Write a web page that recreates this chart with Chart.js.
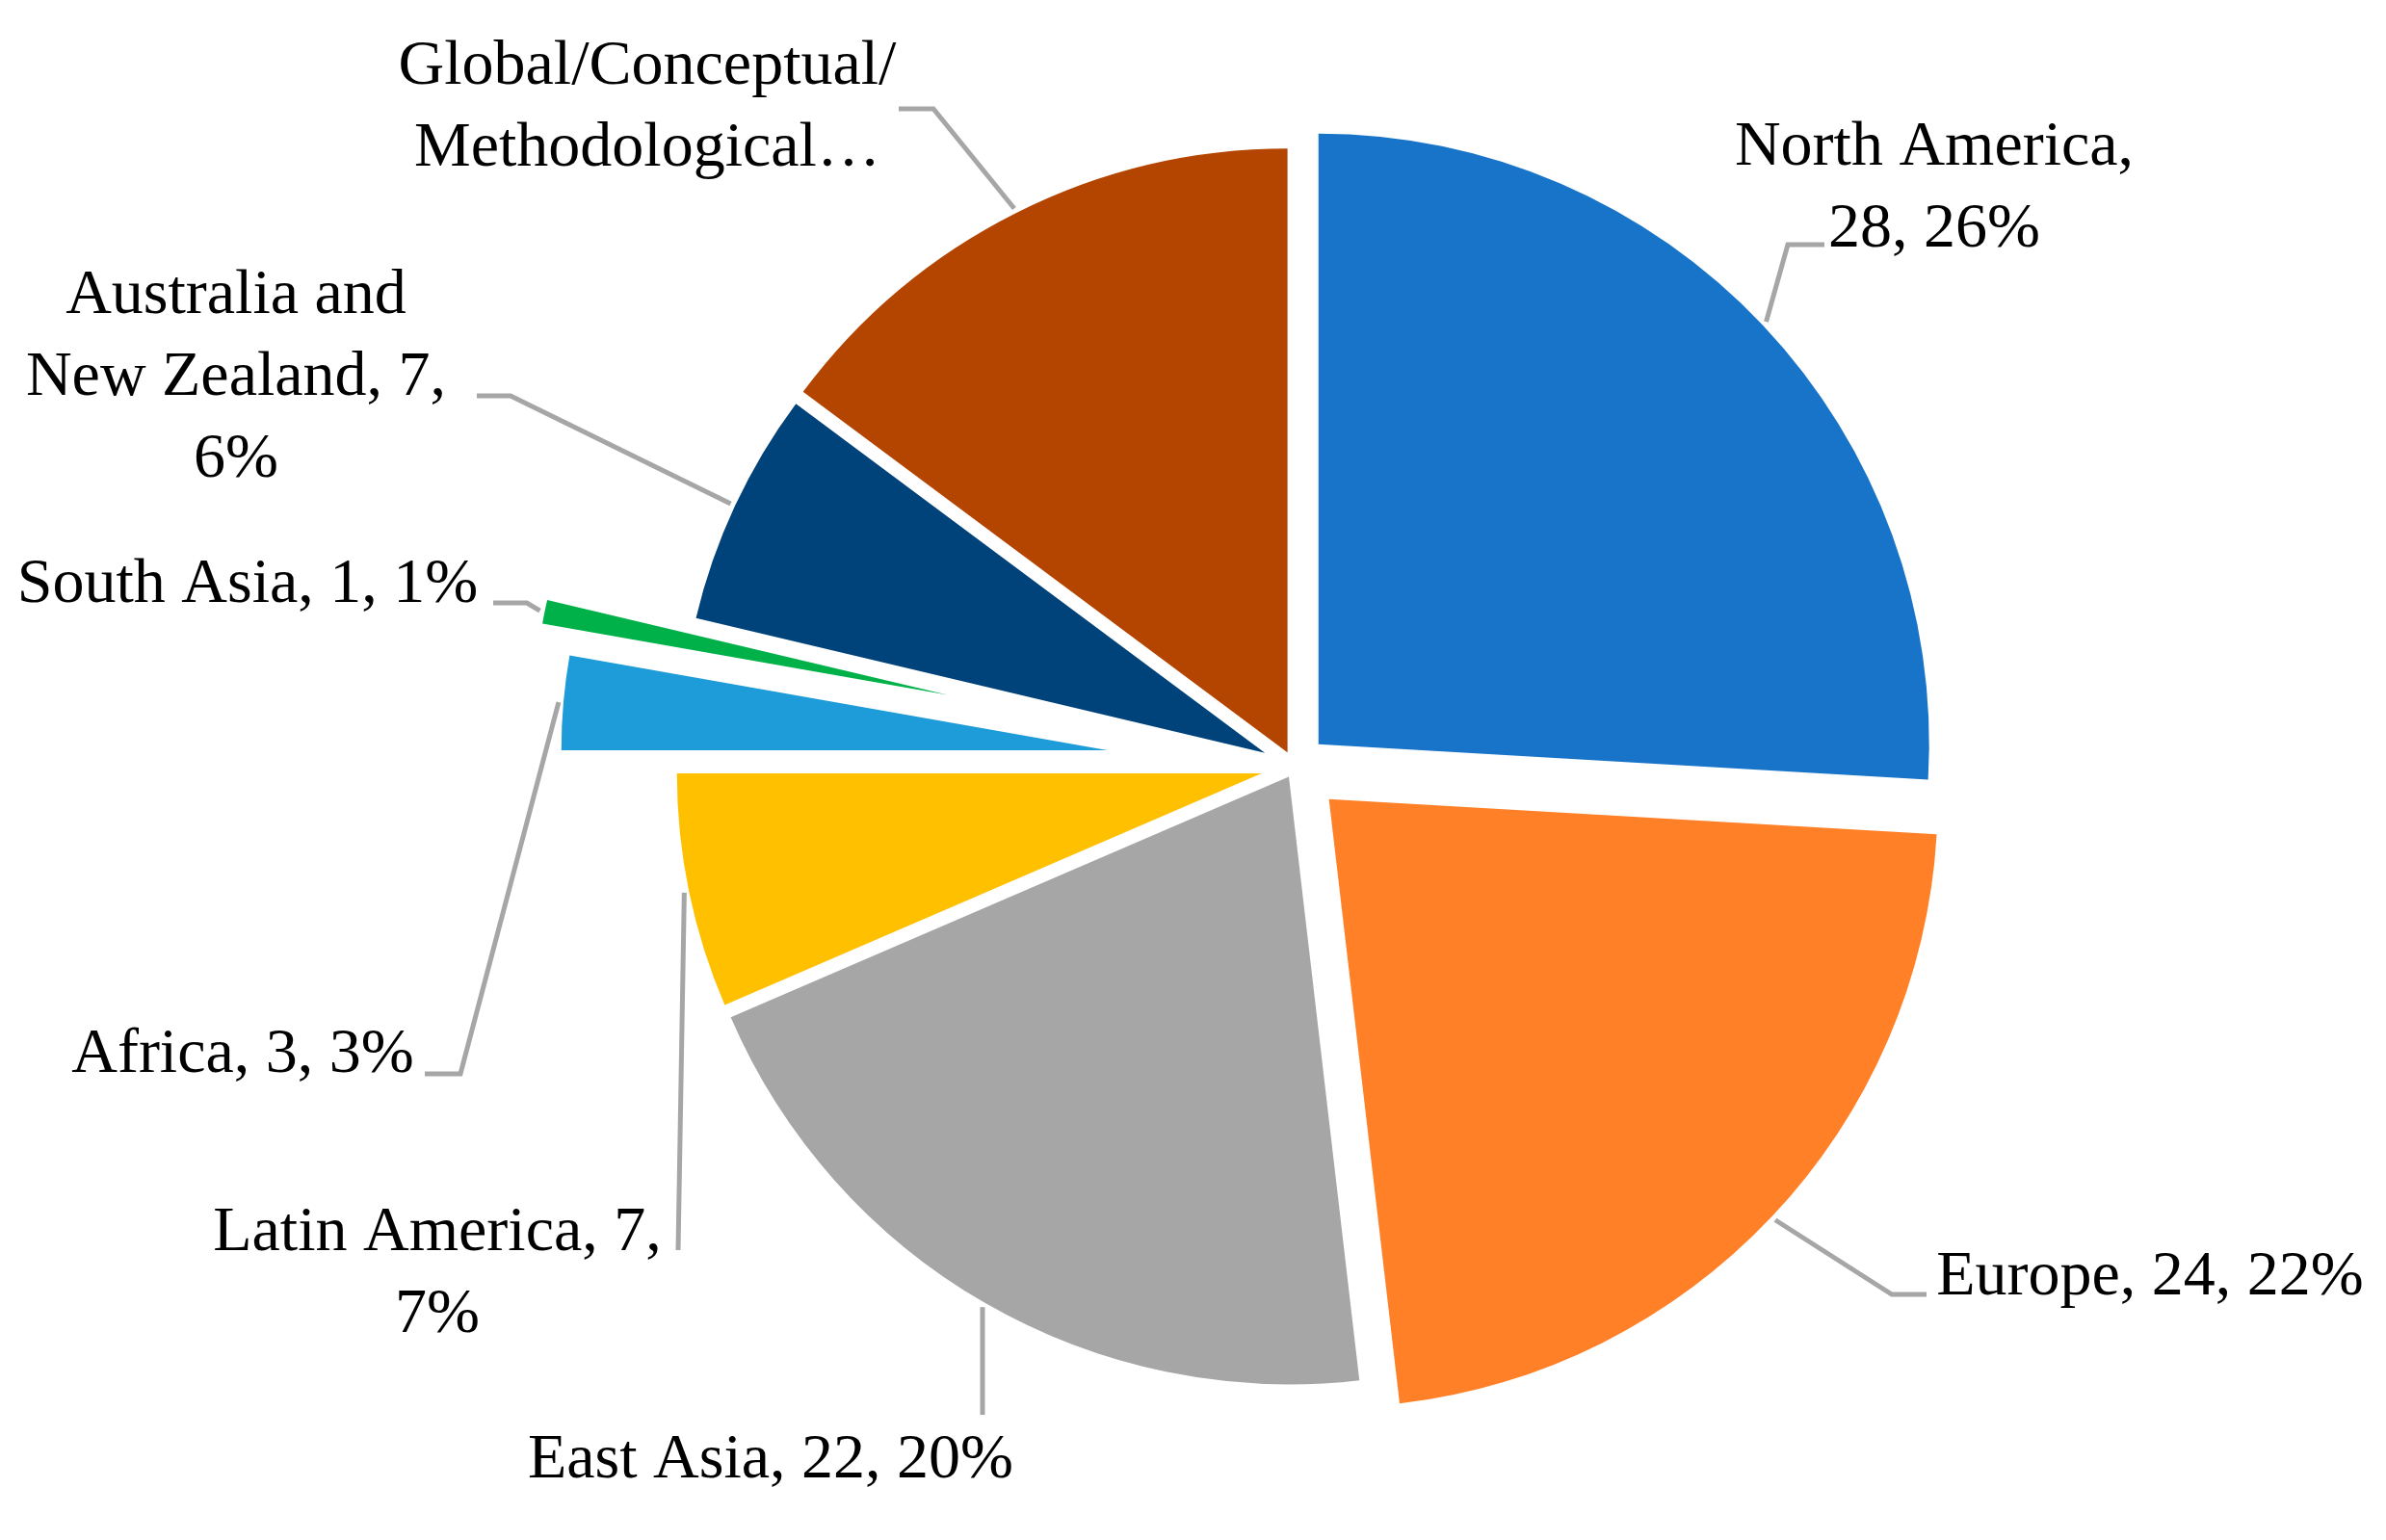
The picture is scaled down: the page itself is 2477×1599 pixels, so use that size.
<!DOCTYPE html>
<html>
<head>
<meta charset="utf-8">
<style>
  html, body { margin: 0; padding: 0; background: #fff; }
  #wrap { width: 2477px; height: 1599px; position: relative; }
</style>
<script src="https://cdn.jsdelivr.net/npm/chart.js@4.4.1/dist/chart.umd.min.js"></script>
</head>
<body>
<div id="wrap"><canvas id="pie"></canvas></div>
<script>
const regions = ['North America', 'Europe', 'East Asia', 'Latin America', 'Africa', 'South Asia', 'Australia and New Zealand', 'Global/Conceptual/Methodological'];
const counts = [28, 24, 22, 7, 3, 1, 7, 16];
const percents = [26, 22, 20, 7, 3, 1, 6, 15];

const colors = ['#1874C9', '#FF8027', '#A6A6A6', '#FFC000', '#1E9CD9', '#00B14A', '#00427A', '#B44500'];
// how far each slice is pulled out (px) and the radius it is drawn with
const explode = [34, 49, 12, 35, 195, 368, 34, 16.5];
const sliceRadius = [634, 632, 631, 607, 567, 427, 607, 627];

// label placement: text centre x, first baseline y, line breaks, leader elbow / end
const labelLayout = [
  { x: 2008, y: 171, breaks: ['America,'], elbow: [1856, 254], end: [1894, 254] },
  { x: 2232, y: 1344, breaks: [], elbow: [1964, 1344], end: [2000, 1344] },
  { x: 800, y: 1534, breaks: [], elbow: null, end: [1020, 1469] },
  { x: 454, y: 1298, breaks: ['7,'], elbow: null, end: [704, 1298] },
  { x: 252, y: 1113, breaks: [], elbow: [478, 1115], end: [441, 1115] },
  { x: 257, y: 625, breaks: [], elbow: [547, 626], end: [512, 626] },
  { x: 245, y: 325, breaks: ['and', '7,'], elbow: [530, 411], end: [495, 411] },
  { x: 672, y: 87, breaks: ['Conceptual/'], clip: 'Methodological', elbow: [969, 113], end: [933, 113] }
];

function labelLines(i) {
  const lay = labelLayout[i];
  let rest = `${regions[i]}, ${counts[i]}, ${percents[i]}%`;
  const lines = [];
  lay.breaks.forEach(tok => {
    const k = rest.indexOf(tok) + tok.length;
    lines.push(rest.slice(0, k).trim());
    rest = rest.slice(k);
  });
  lines.push(rest.trim());
  if (lay.clip) {
    const last = lines.length - 1;
    const k = lines[last].indexOf(lay.clip);
    if (k >= 0) lines[last] = lines[last].slice(0, k + lay.clip.length) + '…';
  }
  return lines;
}

// pull each slice out along its middle angle and give it its own radius
const explodeSlices = {
  id: 'explodeSlices',
  afterDatasetUpdate(chart, args) {
    args.meta.data.forEach((arc, i) => {
      const mid = (arc.startAngle + arc.endAngle) / 2;
      arc.x += Math.cos(mid) * explode[i];
      arc.y += Math.sin(mid) * explode[i];
      arc.outerRadius = sliceRadius[i];
    });
  }
};

const sliceLabels = {
  id: 'sliceLabels',
  afterDatasetsDraw(chart) {
    const ctx = chart.ctx;
    const arcs = chart.getDatasetMeta(0).data;
    ctx.save();
    arcs.forEach((arc, i) => {
      const lay = labelLayout[i];
      const mid = (arc.startAngle + arc.endAngle) / 2;
      const r = arc.outerRadius + 5;
      ctx.beginPath();
      ctx.moveTo(arc.x + Math.cos(mid) * r, arc.y + Math.sin(mid) * r);
      if (lay.elbow) ctx.lineTo(lay.elbow[0], lay.elbow[1]);
      ctx.lineTo(lay.end[0], lay.end[1]);
      ctx.strokeStyle = '#A6A6A6';
      ctx.lineWidth = 5;
      ctx.stroke();

      ctx.fillStyle = '#000';
      ctx.font = '66px "Liberation Serif"';
      ctx.textAlign = 'center';
      ctx.textBaseline = 'alphabetic';
      labelLines(i).forEach((t, k) => ctx.fillText(t, lay.x, lay.y + k * 85));
    });
    ctx.restore();
  }
};

new Chart(document.getElementById('pie'), {
  type: 'pie',
  data: {
    labels: regions,
    datasets: [{
      data: counts,
      backgroundColor: colors,
      borderWidth: 0,
      radius: 632
    }]
  },
  options: {
    responsive: true,
    maintainAspectRatio: false,
    animation: false,
    layout: { padding: { left: 211, right: 0, top: 0, bottom: 7 } },
    plugins: { legend: { display: false }, tooltip: { enabled: false } }
  },
  plugins: [explodeSlices, sliceLabels]
});
</script>
</body>
</html>
